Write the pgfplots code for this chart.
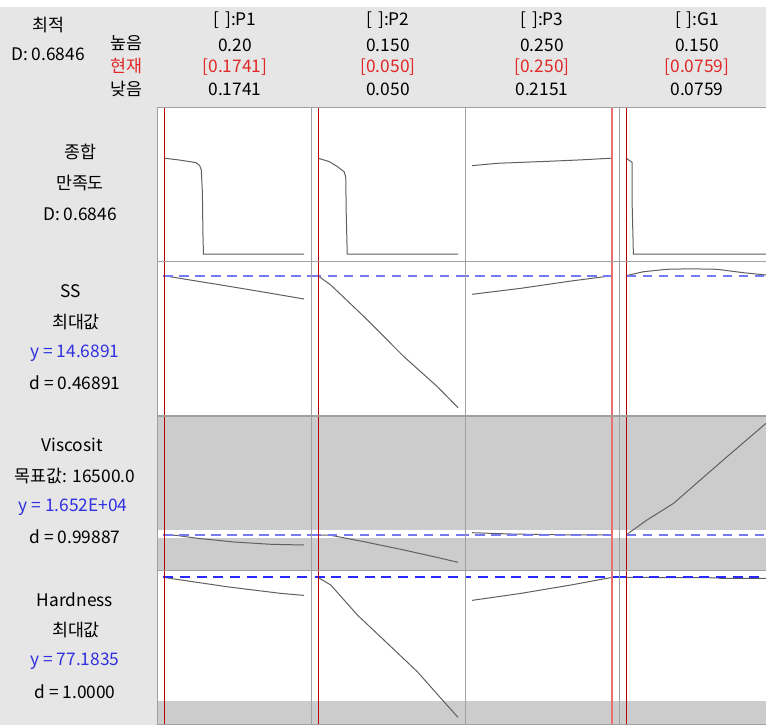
\documentclass[border=0pt]{standalone}
\usepackage{fontspec}
\setmainfont{Noto Sans CJK KR}
\usepackage{pgfplots}
\pgfplotsset{compat=1.18}

\definecolor{panelgray}{HTML}{E6E6E6}
\definecolor{framegray}{HTML}{A0A0A0}
\definecolor{bandgray}{HTML}{CCCCCC}
\definecolor{curvegray}{HTML}{606060}
\definecolor{curred}{HTML}{B80000}
\definecolor{curlight}{HTML}{E87070}
\definecolor{txtred}{HTML}{E02828}
\definecolor{txtblue}{HTML}{3030E0}
\definecolor{reflight}{HTML}{7878F0}
\definecolor{hardref}{RGB}{40,40,255}

\pgfplotsset{
  panel/.style={scale only axis, width=115.5pt, height=115.5pt, anchor=north west,
    xtick=\empty, ytick=\empty, axis on top,
    axis line style={framegray, line width=0.75pt}},
  % factor columns
  colA/.style={xmin=0.172805, xmax=0.201295},
  colB/.style={xmin=0.045, xmax=0.155},
  colC/.style={xmin=0.213355, xmax=0.251745},
  colD/.style={xmin=0.072195, xmax=0.153705},
  % response rows
  rowD/.style={ymin=-0.05, ymax=1.05},
  rowSS/.style={ymin=7.6991, ymax=15.3991},
  rowV/.style={ymin=12145, ymax=31395},
  rowH/.style={ymin=69.8485, ymax=77.5485},
  curve/.style={draw=curvegray, line width=0.75pt, no marks},
  cur/.style={draw=curred, line width=0.6pt, no marks},
  curL/.style={draw=curlight, line width=1.5pt, no marks},
  refl/.style={draw=reflight, line width=1.5pt, dash pattern=on 7pt off 5pt, no marks},
  hdash/.style={color=hardref, line width=1.3pt, dash pattern=on 7.5pt off 5pt, no marks},
  band/.style={fill=bandgray, draw=none, no marks},
}

\begin{document}
\begin{tikzpicture}
\begin{scope}[x=0.75pt, y=-0.75pt]
  \fill[white] (0,0) rectangle (766,725);
  \fill[panelgray] (0,7) rectangle (766,107);
  \fill[panelgray] (0,107) rectangle (157,725);
  \begin{scope}[font=\fontsize{13}{15}\selectfont]
    % header
    \node at (48,25) {최적};
    \node at (48,54) {D: 0.6846};
    \node at (126,43) {높음};
    \node[text=txtred] at (126,66) {현재};
    \node at (126,89) {낮음};
    \node at (235,20) {[\,\,]:P1};
    \node at (235,45) {0.20};
    \node[text=txtred] at (235,67) {[0.1741]};
    \node at (235,89) {0.1741};
    \node at (388,20) {[\,\,]:P2};
    \node at (388,45) {0.150};
    \node[text=txtred] at (388,67) {[0.050]};
    \node at (388,89) {0.050};
    \node at (542,20) {[\,\,]:P3};
    \node at (542,45) {0.250};
    \node[text=txtred] at (542,67) {[0.250]};
    \node at (542,89) {0.2151};
    \node at (697,20) {[\,\,]:G1};
    \node at (697,45) {0.150};
    \node[text=txtred] at (697,67) {[0.0759]};
    \node at (697,89) {0.0759};
    % row labels
    \node at (80,152) {종합};
    \node at (80,183) {만족도};
    \node at (80,214) {D: 0.6846};
    \node at (71,291) {SS};
    \node at (76,322) {최대값};
    \node[text=txtblue] at (75,353) {y = 14.6891};
    \node at (75,383) {d = 0.46891};
    \node at (72,445) {Viscosit};
    \node at (75,476) {목표값: 16500.0};
    \node[text=txtblue] at (73,507) {y = 1.652E+04};
    \node at (75,537) {d = 0.99887};
    \node at (75,600) {Hardness};
    \node at (76,630) {최대값};
    \node[text=txtblue] at (75,661) {y = 77.1835};
    \node at (75,692) {d = 1.0000};
  \end{scope}
\end{scope}

% ---------- composite desirability ----------
\begin{axis}[panel, colA, rowD, at={({157*0.75pt},{-107*0.75pt})}]
  \addplot[curve] coordinates {(0.1741,0.6846) (0.1770,0.671) (0.1800,0.653) (0.1807,0.632) (0.1810,0.600) (0.1812,0.440) (0.1813,0.150) (0.1814,0.0) (0.2000,0.0)};
  \addplot[cur] coordinates {(0.1741,-0.05) (0.1741,1.05)};
\end{axis}
\begin{axis}[panel, colB, rowD, at={({311*0.75pt},{-107*0.75pt})}]
  \addplot[curve] coordinates {(0.0500,0.6846) (0.0580,0.660) (0.0639,0.624) (0.0686,0.588) (0.0698,0.552) (0.0702,0.266) (0.0709,0.0) (0.1500,0.0)};
  \addplot[cur] coordinates {(0.05,-0.05) (0.05,1.05)};
\end{axis}
\begin{axis}[panel, colC, rowD, at={({465*0.75pt},{-107*0.75pt})}]
  \addplot[curve] coordinates {(0.2151,0.631) (0.2215,0.648) (0.2340,0.662) (0.2420,0.672) (0.2500,0.6846)};
  \addplot[curL] coordinates {(0.25,-0.05) (0.25,1.05)};
\end{axis}
\begin{axis}[panel, colD, rowD, at={({619*0.75pt},{-107*0.75pt})}]
  \addplot[curve] coordinates {(0.0759,0.6846) (0.0791,0.655) (0.0792,0.330) (0.0798,0.0) (0.1500,0.0)};
  \addplot[cur] coordinates {(0.0759,-0.05) (0.0759,1.05)};
\end{axis}

% ---------- SS (maximize) ----------
\begin{axis}[panel, colA, rowSS, at={({157*0.75pt},{-261.5*0.75pt})}]
  \addplot[curve] coordinates {(0.1741,14.689) (0.1778,14.524) (0.1858,14.174) (0.1932,13.839) (0.2000,13.524)};
  \addplot[refl] coordinates {(0.1,14.6891) (0.3,14.6891)};
  \addplot[cur] coordinates {(0.1741,7.6991) (0.1741,15.3991)};
\end{axis}
\begin{axis}[panel, colB, rowSS, at={({311*0.75pt},{-261.5*0.75pt})}]
  \addplot[curve] coordinates {(0.0500,14.689) (0.0591,14.224) (0.0829,12.639) (0.1114,10.639) (0.1353,9.139) (0.1500,8.089)};
  \addplot[refl] coordinates {(0.0,14.6891) (0.2,14.6891)};
  \addplot[cur] coordinates {(0.05,7.6991) (0.05,15.3991)};
\end{axis}
\begin{axis}[panel, colC, rowSS, at={({465*0.75pt},{-261.5*0.75pt})}]
  \addplot[curve] coordinates {(0.2151,13.759) (0.2273,14.059) (0.2398,14.424) (0.2500,14.689)};
  \addplot[refl] coordinates {(0.2,14.6891) (0.3,14.6891)};
  \addplot[curL] coordinates {(0.25,7.6991) (0.25,15.3991)};
\end{axis}
\begin{axis}[panel, colD, rowSS, at={({619*0.75pt},{-261.5*0.75pt})}]
  \addplot[curve] coordinates {(0.0759,14.689) (0.0852,14.889) (0.0976,15.009) (0.1099,15.034) (0.1241,15.009) (0.1381,14.839) (0.1500,14.724)};
  \addplot[refl] coordinates {(0.0,14.6891) (0.2,14.6891)};
  \addplot[cur] coordinates {(0.0759,7.6991) (0.0759,15.3991)};
\end{axis}

% ---------- Viscosity (target) ----------
\begin{axis}[panel, colA, rowV, at={({157*0.75pt},{-416*0.75pt})}]
  \addplot[band] coordinates {(0.1,17100) (0.3,17100) (0.3,31395) (0.1,31395)} -- cycle;
  \addplot[band] coordinates {(0.1,12145) (0.3,12145) (0.3,16100) (0.1,16100)} -- cycle;
  \addplot[curve] coordinates {(0.1741,16520) (0.1763,16483) (0.1803,16108) (0.1871,15645) (0.1939,15358) (0.2000,15270)};
  \addplot[refl] coordinates {(0.1,16520) (0.3,16520)};
  \addplot[cur] coordinates {(0.1741,12145) (0.1741,31395)};
\end{axis}
\begin{axis}[panel, colB, rowV, at={({311*0.75pt},{-416*0.75pt})}]
  \addplot[band] coordinates {(0.0,17100) (0.2,17100) (0.2,31395) (0.0,31395)} -- cycle;
  \addplot[band] coordinates {(0.0,12145) (0.2,12145) (0.2,16100) (0.0,16100)} -- cycle;
  \addplot[curve] coordinates {(0.0500,16520) (0.0591,16483) (0.0829,15683) (0.1114,14645) (0.1329,13808) (0.1500,13108)};
  \addplot[refl] coordinates {(0.0,16520) (0.2,16520)};
  \addplot[cur] coordinates {(0.05,12145) (0.05,31395)};
\end{axis}
\begin{axis}[panel, colC, rowV, at={({465*0.75pt},{-416*0.75pt})}]
  \addplot[band] coordinates {(0.2,17100) (0.3,17100) (0.3,31395) (0.2,31395)} -- cycle;
  \addplot[band] coordinates {(0.2,12145) (0.3,12145) (0.3,16100) (0.2,16100)} -- cycle;
  \addplot[curve] coordinates {(0.2151,16808) (0.2248,16645) (0.2373,16545) (0.2500,16520)};
  \addplot[refl] coordinates {(0.2,16520) (0.3,16520)};
  \addplot[curL] coordinates {(0.25,12145) (0.25,31395)};
\end{axis}
\begin{axis}[panel, colD, rowV, at={({619*0.75pt},{-416*0.75pt})}]
  \addplot[band] coordinates {(0.0,17100) (0.2,17100) (0.2,31395) (0.0,31395)} -- cycle;
  \addplot[band] coordinates {(0.0,12145) (0.2,12145) (0.2,16100) (0.0,16100)} -- cycle;
  \addplot[curve] coordinates {(0.0759,16520) (0.0870,18395) (0.1011,20483) (0.1152,23395) (0.1294,26308) (0.1500,30483)};
  \addplot[refl] coordinates {(0.0,16520) (0.2,16520)};
  \addplot[cur] coordinates {(0.0759,12145) (0.0759,31395)};
\end{axis}

% ---------- Hardness (maximize) ----------
\begin{axis}[panel, colA, rowH, at={({157*0.75pt},{-570*0.75pt})}]
  \addplot[band] coordinates {(0.1,69.8485) (0.3,69.8485) (0.3,71.0) (0.1,71.0)} -- cycle;
  \addplot[curve] coordinates {(0.1741,77.18) (0.1760,77.10) (0.1858,76.71) (0.1957,76.38) (0.2000,76.28)};
  \addplot[hdash] coordinates {(0.1,77.1835) (0.3,77.1835)};
  \addplot[cur] coordinates {(0.1741,69.8485) (0.1741,77.5485)};
\end{axis}
\begin{axis}[panel, colB, rowH, at={({311*0.75pt},{-570*0.75pt})}]
  \addplot[band] coordinates {(0.0,69.8485) (0.2,69.8485) (0.2,71.0) (0.0,71.0)} -- cycle;
  \addplot[curve] coordinates {(0.0500,77.18) (0.0591,76.80) (0.0781,75.30) (0.0996,73.88) (0.1210,72.46) (0.1400,70.96) (0.1500,70.18)};
  \addplot[hdash] coordinates {(0.0,77.1835) (0.2,77.1835)};
  \addplot[cur] coordinates {(0.05,69.8485) (0.05,77.5485)};
\end{axis}
\begin{axis}[panel, colC, rowH, at={({465*0.75pt},{-570*0.75pt})}]
  \addplot[band] coordinates {(0.2,69.8485) (0.3,69.8485) (0.3,71.0) (0.2,71.0)} -- cycle;
  \addplot[curve] coordinates {(0.2151,76.03) (0.2273,76.38) (0.2398,76.80) (0.2500,77.18)};
  \addplot[hdash] coordinates {(0.2,77.1835) (0.3,77.1835)};
  \addplot[curL] coordinates {(0.25,69.8485) (0.25,77.5485)};
\end{axis}
\begin{axis}[panel, colD, rowH, at={({619*0.75pt},{-570*0.75pt})}]
  \addplot[band] coordinates {(0.0,69.8485) (0.2,69.8485) (0.2,71.0) (0.0,71.0)} -- cycle;
  \addplot[curve] coordinates {(0.0759,77.18) (0.1241,77.16) (0.1258,77.13) (0.1500,77.13)};
  \addplot[hdash] coordinates {(0.0,77.1835) (0.2,77.1835)};
  \addplot[cur] coordinates {(0.0759,69.8485) (0.0759,77.5485)};
\end{axis}

\pgfresetboundingbox
\path[use as bounding box] (0,0) rectangle ({766*0.75pt},{-725*0.75pt});
\end{tikzpicture}
\end{document}
